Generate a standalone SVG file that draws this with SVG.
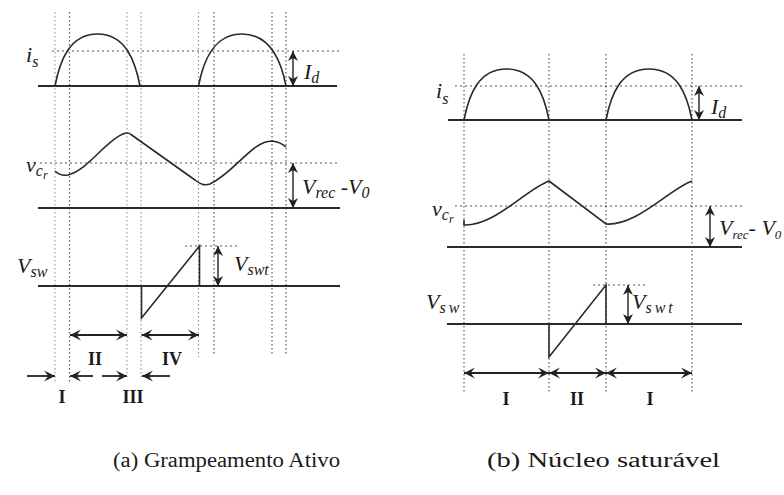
<svg xmlns="http://www.w3.org/2000/svg" width="784" height="495" viewBox="0 0 784 495">
<style>
.bg{fill:#fff}
.ax{stroke:#2a2a2a;stroke-width:1.8;fill:none}
.cv{stroke:#2a2a2a;stroke-width:1.6;fill:none}
.dv{stroke:#555;stroke-width:1.2;stroke-dasharray:1.5 2.5;fill:none}
.dl{stroke:#888;stroke-width:1;stroke-dasharray:1.5 2.5;fill:none}
.dh{stroke:#555;stroke-width:1.2;stroke-dasharray:2 3;fill:none}
.va{stroke:#222;stroke-width:1.4;fill:none;marker-start:url(#ah);marker-end:url(#ah)}
.ha{stroke:#222;stroke-width:1.8;fill:none}
.m{font-family:"Liberation Serif","Times New Roman",serif;font-style:italic;font-size:22px;fill:#1a1a1a}
.r{font-family:"Liberation Serif","Times New Roman",serif;font-weight:bold;font-size:18px;fill:#1a1a1a;text-anchor:middle}
.cap{font-family:"Liberation Serif","Times New Roman",serif;font-size:20px;fill:#1a1a1a}
</style>
<defs>
<marker id="ah" viewBox="0 0 10 10" refX="10" refY="5" markerWidth="10" markerHeight="11" markerUnits="userSpaceOnUse" orient="auto-start-reverse">
<path d="M0,0 L10,5 L0,10 L3,5 z" fill="#222"/>
</marker>
<marker id="ch" viewBox="0 0 10 10" refX="10" refY="5" markerWidth="11" markerHeight="12" markerUnits="userSpaceOnUse" orient="auto-start-reverse">
<path d="M0,0 L10,5 L0,10 L4,5 z" fill="#222"/>
</marker>
</defs>
<rect class="bg" x="0" y="0" width="784" height="495"/>

<g id="grid-a">
<line class="dl" x1="55" y1="12" x2="55" y2="383"/>
<line class="dv" x1="69.5" y1="12" x2="69.5" y2="382"/>
<line class="dl" x1="127" y1="12" x2="127" y2="377"/>
<line class="dl" x1="141" y1="12" x2="141" y2="377"/>
<line class="dl" x1="198.5" y1="12" x2="198.5" y2="357"/>
<line class="dv" x1="214" y1="12" x2="214" y2="355"/>
<line class="dv" x1="272" y1="12" x2="272" y2="355"/>
<line class="dv" x1="286" y1="12" x2="286" y2="355"/>
<line class="dh" x1="52" y1="51" x2="342" y2="51"/>
<line class="dh" x1="40" y1="163" x2="340" y2="163"/>
<line class="dh" x1="185" y1="246" x2="240" y2="246"/>
</g>

<g id="wave-a">
<line class="ax" x1="38" y1="86" x2="337" y2="86"/>
<path class="cv" d="M55,86 C60,60 70,34 97.5,34 C125,34 135,60 140,86"/>
<path class="cv" d="M198.5,86 C203.5,60 214,34 242,34 C270,34 281,60 286,86"/>
<line class="ax" x1="38" y1="208" x2="340" y2="208"/>
<path class="cv" d="M55,171 C58,174 62,176 68,175 C88,170 106,140 124,133.5 Q128,132 131,134.5 L195,180 C200,184 204,186 210,184 C235,172 252,141 272,141 C280,142 284,145 286,147"/>
<line class="ax" x1="38" y1="286" x2="340" y2="286"/>
<path class="cv" d="M141.5,286 L141.5,318 L199.5,246 L199.5,286"/>
</g>

<g id="arrows-a">
<line class="va" x1="293" y1="51" x2="293" y2="86"/>
<line class="va" x1="293" y1="163" x2="293" y2="208"/>
<line class="va" x1="218" y1="246" x2="218" y2="286"/>
<line class="ha" x1="70" y1="335" x2="127" y2="335" marker-start="url(#ch)" marker-end="url(#ch)"/>
<line class="ha" x1="141.5" y1="335" x2="199" y2="335" marker-start="url(#ch)" marker-end="url(#ch)"/>
<line class="ha" x1="27" y1="376" x2="55" y2="376" marker-end="url(#ch)"/>
<line class="ha" x1="93" y1="376" x2="70" y2="376" marker-end="url(#ch)"/>
<line class="ha" x1="102" y1="376" x2="127" y2="376" marker-end="url(#ch)"/>
<line class="ha" x1="170" y1="376" x2="142" y2="376" marker-end="url(#ch)"/>
</g>

<g id="labels-a">
<text class="m" x="26" y="62">i<tspan dy="5" font-size="16">s</tspan></text>
<text class="m" x="304" y="79" font-size="23">I<tspan dy="4" font-size="16">d</tspan></text>
<text class="m" x="26" y="172">v<tspan dy="4" font-size="16">c</tspan><tspan dy="3" font-size="12">r</tspan></text>
<text class="m" x="302" y="194" font-size="23">V<tspan dy="4" font-size="16">rec</tspan><tspan dy="-4"> -V</tspan><tspan dy="4" font-size="16">0</tspan></text>
<text class="m" x="17" y="273">V<tspan dy="4" font-size="16">sw</tspan></text>
<text class="m" x="234" y="271">V<tspan dy="4" font-size="16">swt</tspan></text>
<text class="r" x="95" y="365">II</text>
<text class="r" x="172" y="365">IV</text>
<text class="r" x="62" y="403">I</text>
<text class="r" x="133" y="403">III</text>
</g>

<g id="grid-b">
<line class="dv" x1="464" y1="54" x2="464" y2="393"/>
<line class="dv" x1="549" y1="54" x2="549" y2="393"/>
<line class="dv" x1="606" y1="54" x2="606" y2="393"/>
<line class="dv" x1="692" y1="54" x2="692" y2="393"/>
<line class="dh" x1="455" y1="86" x2="745" y2="86"/>
<line class="dh" x1="455" y1="206" x2="745" y2="206"/>
<line class="dh" x1="593" y1="285" x2="648" y2="285"/>
</g>

<g id="wave-b">
<line class="ax" x1="448" y1="120" x2="742" y2="120"/>
<path class="cv" d="M464,120 C469,94 479,69 506.5,69 C534,69 544,94 549,120"/>
<path class="cv" d="M606,120 C611,94 621,69 649,69 C677,69 687,94 692,120"/>
<line class="ax" x1="447" y1="247" x2="742" y2="247"/>
<path class="cv" d="M464,220 L464,225 C495,226 525,190 549,181 L606,224 C637,226 668,190 692,181"/>
<line class="ax" x1="447" y1="324" x2="742" y2="324"/>
<path class="cv" d="M549,324 L549,357 L606,285 L606,324"/>
</g>

<g id="arrows-b">
<line class="va" x1="699" y1="86" x2="699" y2="120"/>
<line class="va" x1="710" y1="206" x2="710" y2="247"/>
<line class="va" x1="628" y1="285" x2="628" y2="324"/>
<line class="ha" x1="464" y1="373" x2="549" y2="373" marker-start="url(#ch)" marker-end="url(#ch)"/>
<line class="ha" x1="549" y1="373" x2="606" y2="373" marker-start="url(#ch)" marker-end="url(#ch)"/>
<line class="ha" x1="606" y1="373" x2="692" y2="373" marker-start="url(#ch)" marker-end="url(#ch)"/>
</g>

<g id="labels-b">
<text class="m" x="436" y="98">i<tspan dy="6" font-size="16">s</tspan></text>
<text class="m" x="711" y="114" font-size="23">I<tspan dy="4" font-size="16">d</tspan></text>
<text class="m" x="432" y="216">v<tspan dy="4" font-size="16">c</tspan><tspan dy="3" font-size="12">r</tspan></text>
<text class="m" x="719" y="235" font-size="20">V<tspan dy="4" font-size="13">rec</tspan><tspan dy="-4">- V</tspan><tspan dy="4" font-size="13">0</tspan></text>
<text class="m" x="426" y="309">V<tspan dy="4" font-size="16" letter-spacing="3">sw</tspan></text>
<text class="m" x="632" y="309">V<tspan dy="4" font-size="16" letter-spacing="3">swt</tspan></text>
<text class="r" x="506" y="405">I</text>
<text class="r" x="577" y="405">II</text>
<text class="r" x="650" y="405">I</text>
</g>

<g id="captions">
<text class="cap" x="113" y="467" textLength="227" lengthAdjust="spacingAndGlyphs">(a) Grampeamento Ativo</text>
<text class="cap" x="487" y="467" textLength="233" lengthAdjust="spacingAndGlyphs">(b) Núcleo saturável</text>
</g>
</svg>
